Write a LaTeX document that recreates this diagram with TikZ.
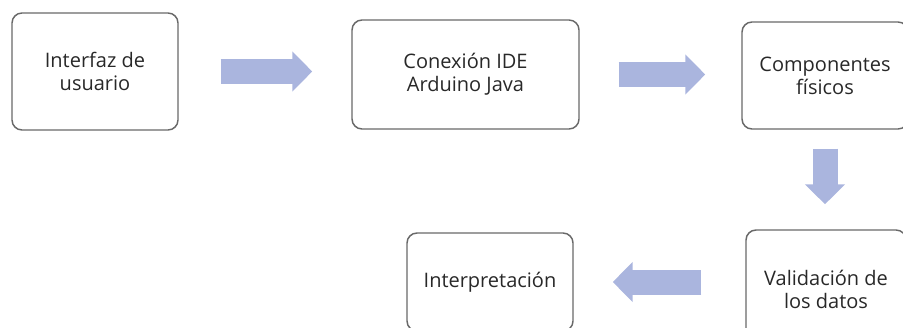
\documentclass[tikz,border=0pt]{standalone}
\usepackage{fontspec}
\setmainfont{Open Sans}
\usetikzlibrary{arrows.meta}
\definecolor{boxgray}{RGB}{105,105,105}
\definecolor{arrowblue}{RGB}{170,181,222}
\definecolor{textgray}{RGB}{40,40,40}
\tikzset{
	stepbox/.style={draw=boxgray, line width=1.1pt, rounded corners=7.5pt, align=center, text=textgray, font=\fontsize{15}{17.25}\selectfont, inner sep=0pt},
	bigarrow/.style={draw=arrowblue, line width=18.75pt, -{Triangle[width=29.25pt,length=15pt]}}
}
\begin{document}
\begin{tikzpicture}[x=0.75pt,y=0.75pt,yscale=-1,xscale=1]
		\useasboundingbox (0,0) rectangle (903,328);

		\node [stepbox, minimum width=124.5pt, minimum height=87.75pt] (intf) at (95,71.5) {Interfaz de\\usuario};
		\node [stepbox, minimum width=170.25pt, minimum height=81.75pt] (conex) at (465.5,74.5) {Conexión IDE\\Arduino Java};
		\node [stepbox, minimum width=124.5pt, minimum height=80.25pt] (comp) at (825,75.5) {Componentes\\físicos};
		\node [stepbox, minimum width=120pt, minimum height=88.5pt] (valid) at (826,289) {Validación de\\los datos};
		\node [stepbox, minimum width=124.5pt, minimum height=73.5pt] (interp) at (490,282) {Interpretación};

		\draw [bigarrow, shorten <=31.5pt, shorten >=29.25pt] (intf.east) -- (intf.east -| conex.west);
		\draw [bigarrow, shorten <=29.25pt, shorten >=27pt] (conex.east) -- (conex.east -| comp.west);
		\draw [bigarrow, shorten <=14.25pt, shorten >=18.75pt] (comp.south) -- (comp.south |- valid.north);
		\draw [bigarrow, shorten <=33pt, shorten >=29.25pt] (interp.east -| valid.west) -- (interp.east);
	\end{tikzpicture}
\end{document}
